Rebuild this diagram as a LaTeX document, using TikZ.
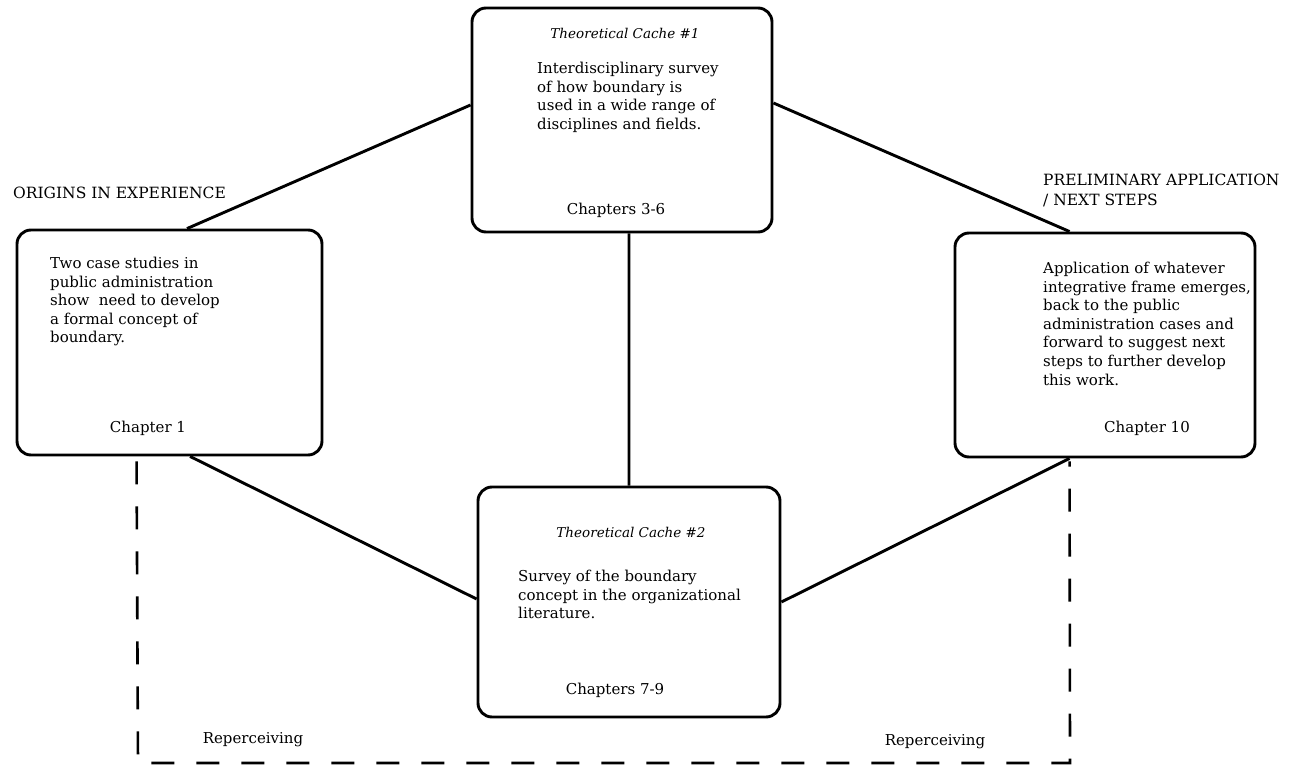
\documentclass[tikz,border=0pt]{standalone}
\usepackage{fontspec}
\setmainfont{DejaVu Serif}
\usetikzlibrary{calc}
\begin{document}
\begin{tikzpicture}[x=1pt,y=-1pt,
  card/.style={draw, line width=2.9pt, rounded corners=14pt, inner sep=0pt},
  link/.style={line width=2.9pt},
  loop/.style={line width=2.6pt, dash pattern=on 23pt off 22pt},
  body/.style={align=left, inner sep=0pt, anchor=north west, font=\fontsize{15}{18.6}\selectfont},
  ttl/.style={inner sep=0pt, font=\fontsize{13.5}{15}\itshape},
  chap/.style={inner sep=0pt, font=\fontsize{15}{18}\selectfont},
  lab/.style={inner sep=0pt, font=\fontsize{15.5}{20}\selectfont}]
\useasboundingbox (0,0) rectangle (1299,776);

% boxes
\node[card, minimum width=305pt, minimum height=225pt] (L) at (169.5,342.5) {};
\node[card, minimum width=300pt, minimum height=224pt] (T) at (622,120) {};
\node[card, minimum width=300pt, minimum height=224pt] (R) at (1105,345) {};
\node[card, minimum width=302pt, minimum height=230pt] (B) at (629,602) {};

% connectors
\draw[link] ($(L.north west)!0.557!(L.north east)$) -- ($(T.west)+(0,-15)$);
\draw[link] ($(T.east)+(0,-17)$) -- ($(R.north west)!0.383!(R.north east)$);
\draw[link] ($(T.south west)!0.523!(T.south east)$) -- ($(B.north west)!0.5!(B.north east)$);
\draw[link] ($(L.south west)!0.567!(L.south east)$) -- ($(B.west)+(0,-3)$);
\draw[link] ($(R.south west)!0.383!(R.south east)$) -- (B.east);

% dashed loop
\coordinate (dl) at ($(L.south west)+(121,5)$);
\coordinate (dr) at ($(R.south west)!0.383!(R.south east)+(0,3)$);
\coordinate (dbl) at (138,763);
\coordinate (dbr) at (1070,763);
\draw[loop] (dl) -- (dbl) -- (dbr) -- (dr);

% texts
\node[ttl] (t1) at (625,33) {Theoretical Cache \#1};
\node[body] (tb) at (537,62) {Interdisciplinary survey\\of how boundary is\\used in a wide range of\\disciplines and fields.};
\node[chap] (tc) at (616,210) {Chapters 3-6};

\node[body] (lb) at (50,257) {Two case studies in\\public administration\\show\ \ need to develop\\a formal concept of\\boundary.};
\node[chap] (lc) at (148,428) {Chapter 1};

\node[body] (rb) at (1043,262) {Application of whatever\\integrative frame emerges,\\back to the public\\administration cases and\\forward to suggest next\\steps to further develop\\this work.};
\node[chap] (rc) at (1147,428) {Chapter 10};

\node[ttl] (t2) at (631,532) {Theoretical Cache \#2};
\node[body] (bb) at (518,570) {Survey of the boundary\\concept in the organizational\\literature.};
\node[chap] (bc) at (615,690) {Chapters 7-9};

\node[lab, anchor=west] (o) at (13,193) {ORIGINS IN EXPERIENCE};
\node[lab, anchor=north west, align=left] (p) at (1043,174) {PRELIMINARY APPLICATION\\/ NEXT STEPS};

\node[chap] (r1) at (253,740) {Reperceiving};
\node[chap] (r2) at (935,742) {Reperceiving};
\end{tikzpicture}
\end{document}
